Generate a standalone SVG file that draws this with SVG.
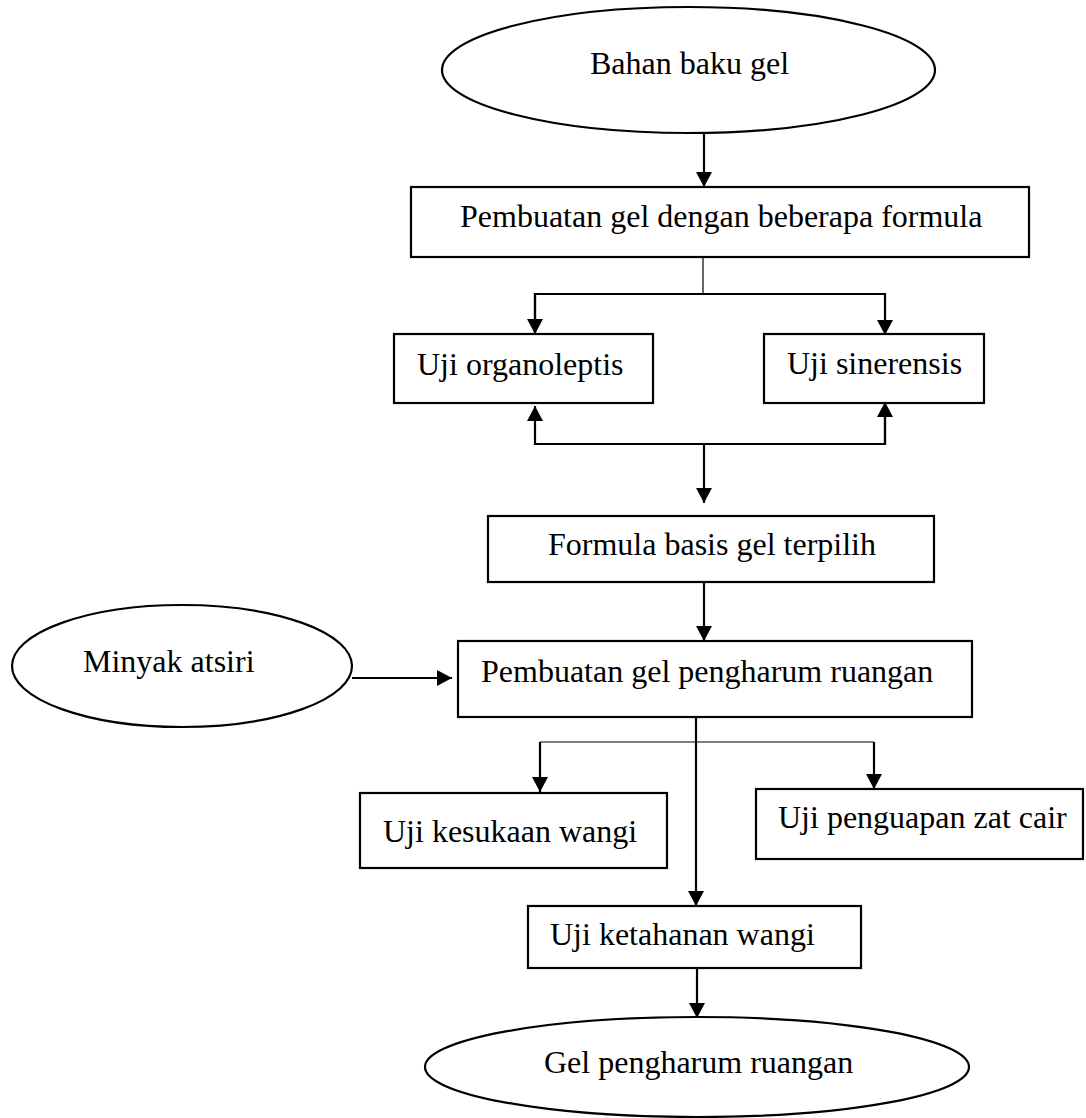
<svg xmlns="http://www.w3.org/2000/svg" width="1086" height="1118" viewBox="0 0 1086 1118">
<style>
.n{fill:#fff;stroke:#000;stroke-width:2.2}
.t{font-family:"Liberation Serif","Times New Roman",serif;font-size:32px;fill:#000}
.c{fill:none;stroke:#000;stroke-width:2.2}
.th{fill:none;stroke:#000;stroke-width:1.2}
</style>
<defs>
<marker id="ah" markerUnits="userSpaceOnUse" markerWidth="16" markerHeight="16" refX="15" refY="8" orient="auto">
<path d="M0,0 L15,8 L0,16 z" fill="#000"/>
</marker>
</defs>
<rect width="1086" height="1118" fill="#fff"/>
<g id="connectors">
<line class="c" x1="704" y1="133" x2="704" y2="187" marker-end="url(#ah)"/>
<line class="th" x1="703" y1="257" x2="703" y2="294"/>
<polyline class="c" points="535,332 535,294 885,294 885,335" marker-end="url(#ah)"/>
<line class="c" x1="535" y1="294" x2="535" y2="334" marker-end="url(#ah)"/>
<polyline class="c" points="885,402 885,444 535,444 535,406" marker-end="url(#ah)"/>
<line class="c" x1="885" y1="444" x2="885" y2="402" marker-end="url(#ah)"/>
<line class="c" x1="704" y1="444" x2="704" y2="503" marker-end="url(#ah)"/>
<line class="c" x1="704" y1="582" x2="704" y2="641" marker-end="url(#ah)"/>
<line class="c" x1="352" y1="678" x2="452" y2="678" marker-end="url(#ah)"/>
<line class="c" x1="696" y1="715" x2="696" y2="906" marker-end="url(#ah)"/>
<polyline class="th" points="540,742 874,742"/>
<line class="c" x1="540" y1="742" x2="540" y2="792" marker-end="url(#ah)"/>
<line class="c" x1="874" y1="742" x2="874" y2="789" marker-end="url(#ah)"/>
<line class="c" x1="697" y1="968" x2="697" y2="1018" marker-end="url(#ah)"/>
</g>
<g id="bahan-baku">
<ellipse class="n" cx="688.5" cy="70" rx="246.5" ry="63"/>
<text class="t" x="590" y="74">Bahan baku gel</text>
</g>
<g id="pembuatan-formula">
<rect class="n" x="411" y="187" width="618" height="70"/>
<text class="t" x="460" y="227">Pembuatan gel dengan beberapa formula</text>
</g>
<g id="uji-organoleptis">
<rect class="n" x="394" y="334" width="259" height="69"/>
<text class="t" x="417" y="375">Uji organoleptis</text>
</g>
<g id="uji-sinerensis">
<rect class="n" x="764" y="334" width="220" height="69"/>
<text class="t" x="787" y="374">Uji sinerensis</text>
</g>
<g id="formula-terpilih">
<rect class="n" x="488" y="516" width="446" height="66"/>
<text class="t" x="548" y="555">Formula basis gel terpilih</text>
</g>
<g id="minyak-atsiri">
<ellipse class="n" cx="182" cy="666" rx="170" ry="61"/>
<text class="t" x="83" y="672">Minyak atsiri</text>
</g>
<g id="pembuatan-pengharum">
<rect class="n" x="458" y="641" width="514" height="76"/>
<text class="t" x="481" y="682">Pembuatan gel pengharum ruangan</text>
</g>
<g id="uji-kesukaan">
<rect class="n" x="360" y="793" width="307" height="75"/>
<text class="t" x="383" y="842">Uji kesukaan wangi</text>
</g>
<g id="uji-penguapan">
<rect class="n" x="756" y="789" width="327" height="70"/>
<text class="t" x="778" y="828">Uji penguapan zat cair</text>
</g>
<g id="uji-ketahanan">
<rect class="n" x="528" y="906" width="333" height="62"/>
<text class="t" x="550" y="945">Uji ketahanan wangi</text>
</g>
<g id="gel-pengharum">
<ellipse class="n" cx="697" cy="1067" rx="272" ry="50"/>
<text class="t" x="544" y="1073">Gel pengharum ruangan</text>
</g>
</svg>
